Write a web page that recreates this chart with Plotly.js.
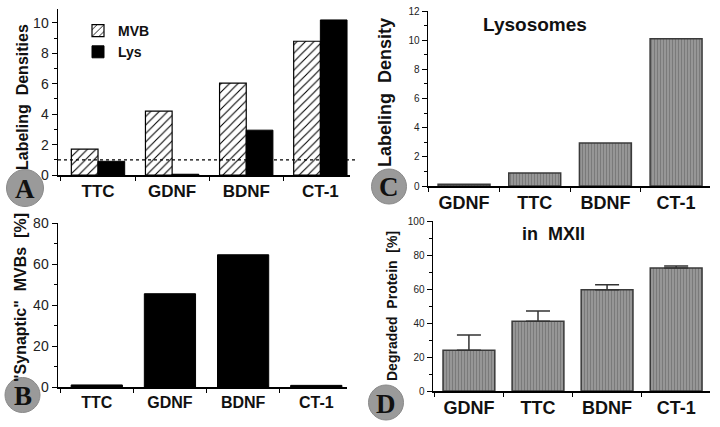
<!DOCTYPE html>
<html><head><meta charset="utf-8">
<script src="https://cdn.plot.ly/plotly-3.0.1.min.js"></script>
<style>html,body{margin:0;padding:0;background:#fff}#chart{width:720px;height:427px}</style>
</head><body><div id="chart"></div>
<script>
// ---- Data ----
const catsA = ['TTC','GDNF','BDNF','CT-1'];
const mvbA = [1.7, 4.2, 6.05, 8.8];
const lysA = [0.9, 0.05, 2.95, 10.2];
const refLineA = 1;
const catsB = ['TTC','GDNF','BDNF','CT-1'];
const synapticB = [1.0, 45.5, 64.5, 0.8];
const catsC = ['GDNF','TTC','BDNF','CT-1'];
const lysosomesC = [0.12, 0.9, 2.95, 10.1];
const catsD = ['GDNF','TTC','BDNF','CT-1'];
const degradedD = [24, 41, 59.5, 72.3];
const errD = [9, 6, 3, 1.2];
const errMinusD = [0, 0, 0, 0];

const W = 720, H = 427;
const px = v => v / W, py = v => 1 - v / H;
const FONT = 'Liberation Sans, Arial, sans-serif';
const grayBar = {color:'#8e8e8e', line:{color:'#3a3a3a', width:1.5},
  pattern:{shape:'|', fgcolor:'#7a7a7a', bgcolor:'#969696', size:3, solidity:0.35}};

const traces = [
  {type:'bar', name:'MVB', x:catsA, y:mvbA, xaxis:'x', yaxis:'y', offset:-0.36, width:0.36,
   marker:{color:'#ffffff', line:{color:'#000', width:1.2},
     pattern:{shape:'/', fgcolor:'#000', bgcolor:'#fff', size:6, solidity:0.18}}},
  {type:'bar', name:'Lys', x:catsA, y:lysA, xaxis:'x', yaxis:'y', offset:0, width:0.36,
   marker:{color:'#000', line:{color:'#000', width:1}}},
  {type:'bar', x:catsC, y:lysosomesC, xaxis:'x2', yaxis:'y2', width:0.735, showlegend:false, marker:grayBar},
  {type:'bar', x:catsB, y:synapticB, xaxis:'x3', yaxis:'y3', width:0.70, showlegend:false,
   marker:{color:'#000', line:{color:'#000', width:1}}},
  {type:'bar', x:catsD, y:degradedD, xaxis:'x4', yaxis:'y4', width:0.75, showlegend:false, marker:grayBar,
   error_y:{type:'data', symmetric:false, array:errD, arrayminus:errMinusD, color:'#333', thickness:1.5, width:12}}
];

function xax(domain, range, anchor, fs){
  return {domain:domain, range:range, anchor:anchor, type:'category', showline:true, linecolor:'#000', linewidth:1.5,
    ticks:'outside', ticklen:4, tickcolor:'#000', tickson:'boundaries', showgrid:false, zeroline:false,
    tickfont:{family:FONT, size:fs, color:'#111', weight:'bold'}, fixedrange:true};
}
function yax(domain, range, anchor, dtick, minor, fs){
  return {domain:domain, range:range, anchor:anchor, showline:true, linecolor:'#000', linewidth:1.5,
    ticks:'outside', ticklen:5, tickcolor:'#000', dtick:dtick, showgrid:false, zeroline:false,
    minor:{dtick:minor, ticks:'outside', ticklen:3, tickcolor:'#000'},
    tickfont:{family:FONT, size:fs, color:'#222'}, fixedrange:true};
}

function circ(cx, cy, r){
  return {type:'circle', xref:'paper', yref:'paper', x0:px(cx-r), x1:px(cx+r), y0:py(cy+r), y1:py(cy-r),
    fillcolor:'#9a9a9a', line:{color:'#8a8a8a', width:1}, layer:'above'};
}
function letter(t, cx, cy){
  return {text:t, xref:'paper', yref:'paper', x:px(cx), y:py(cy), showarrow:false, xanchor:'center', yanchor:'middle',
    font:{family:'Liberation Serif, DejaVu Serif, serif', size:27, color:'#111', weight:'bold'}};
}
function ytitle(t, cx, cy, fs){
  return {text:t, xref:'paper', yref:'paper', x:px(cx), y:py(cy), showarrow:false, textangle:-90,
    xanchor:'center', yanchor:'middle', font:{family:FONT, size:fs, color:'#111', weight:'bold'}};
}

const layout = {
  width:W, height:H, margin:{l:0, r:0, t:0, b:0}, paper_bgcolor:'#fff', plot_bgcolor:'#fff',
  barmode:'overlay', showlegend:true,
  legend:{x:px(78), y:py(15), xanchor:'left', yanchor:'top', bgcolor:'rgba(0,0,0,0)',
    font:{family:FONT, size:14, color:'#111', weight:'bold'}, tracegroupgap:0, itemwidth:30},
  xaxis: xax([px(58), px(350)], [-0.54, 3.4], 'y', 17),
  yaxis: yax([py(175), py(9)], [0, 10.92], 'x', 2, 1, 14),
  xaxis2: xax([px(428), px(710)], [-0.51, 3.48], 'y2', 18),
  yaxis2: yax([py(186), py(11)], [0, 12], 'x2', 2, 1, 10),
  xaxis3: xax([px(58), px(347)], [-0.53, 3.42], 'y3', 16),
  yaxis3: yax([py(387), py(223)], [0, 80], 'x3', 20, 10, 14),
  xaxis4: xax([px(433), px(710)], [-0.52, 3.49], 'y4', 18),
  yaxis4: yax([py(391), py(221)], [0, 100], 'x4', 20, 10, 10),
  shapes:[
    {type:'line', xref:'paper', yref:'y', x0:px(58), x1:px(358), y0:refLineA, y1:refLineA,
     line:{color:'#000', width:1.3, dash:'dot'}},
    circ(25, 188, 18.5), circ(22.5, 395, 17.5), circ(389, 186.5, 17.5), circ(386, 402.5, 17.5)
  ],
  annotations:[
    letter('A', 25, 189), letter('B', 22.5, 396), letter('C', 389, 187.5), letter('D', 386, 403.5),
    ytitle('Labeling  Densities', 22, 97, 16),
    ytitle('"Synaptic"  MVBs  [%]', 20, 298, 16),
    ytitle('Labeling  Density', 385, 93, 18),
    ytitle('Degraded  Protein  [%]', 392, 306, 14),
    {text:'Lysosomes', xref:'paper', yref:'paper', x:px(535), y:py(25), showarrow:false, xanchor:'center', yanchor:'middle',
     font:{family:FONT, size:19, color:'#111', weight:'bold'}},
    {text:'in  MXII', xref:'paper', yref:'paper', x:px(553), y:py(234), showarrow:false, xanchor:'center', yanchor:'middle',
     font:{family:FONT, size:18, color:'#111', weight:'bold'}}
  ]
};

Plotly.newPlot('chart', traces, layout, {displayModeBar:false, staticPlot:true});
</script></body></html>
